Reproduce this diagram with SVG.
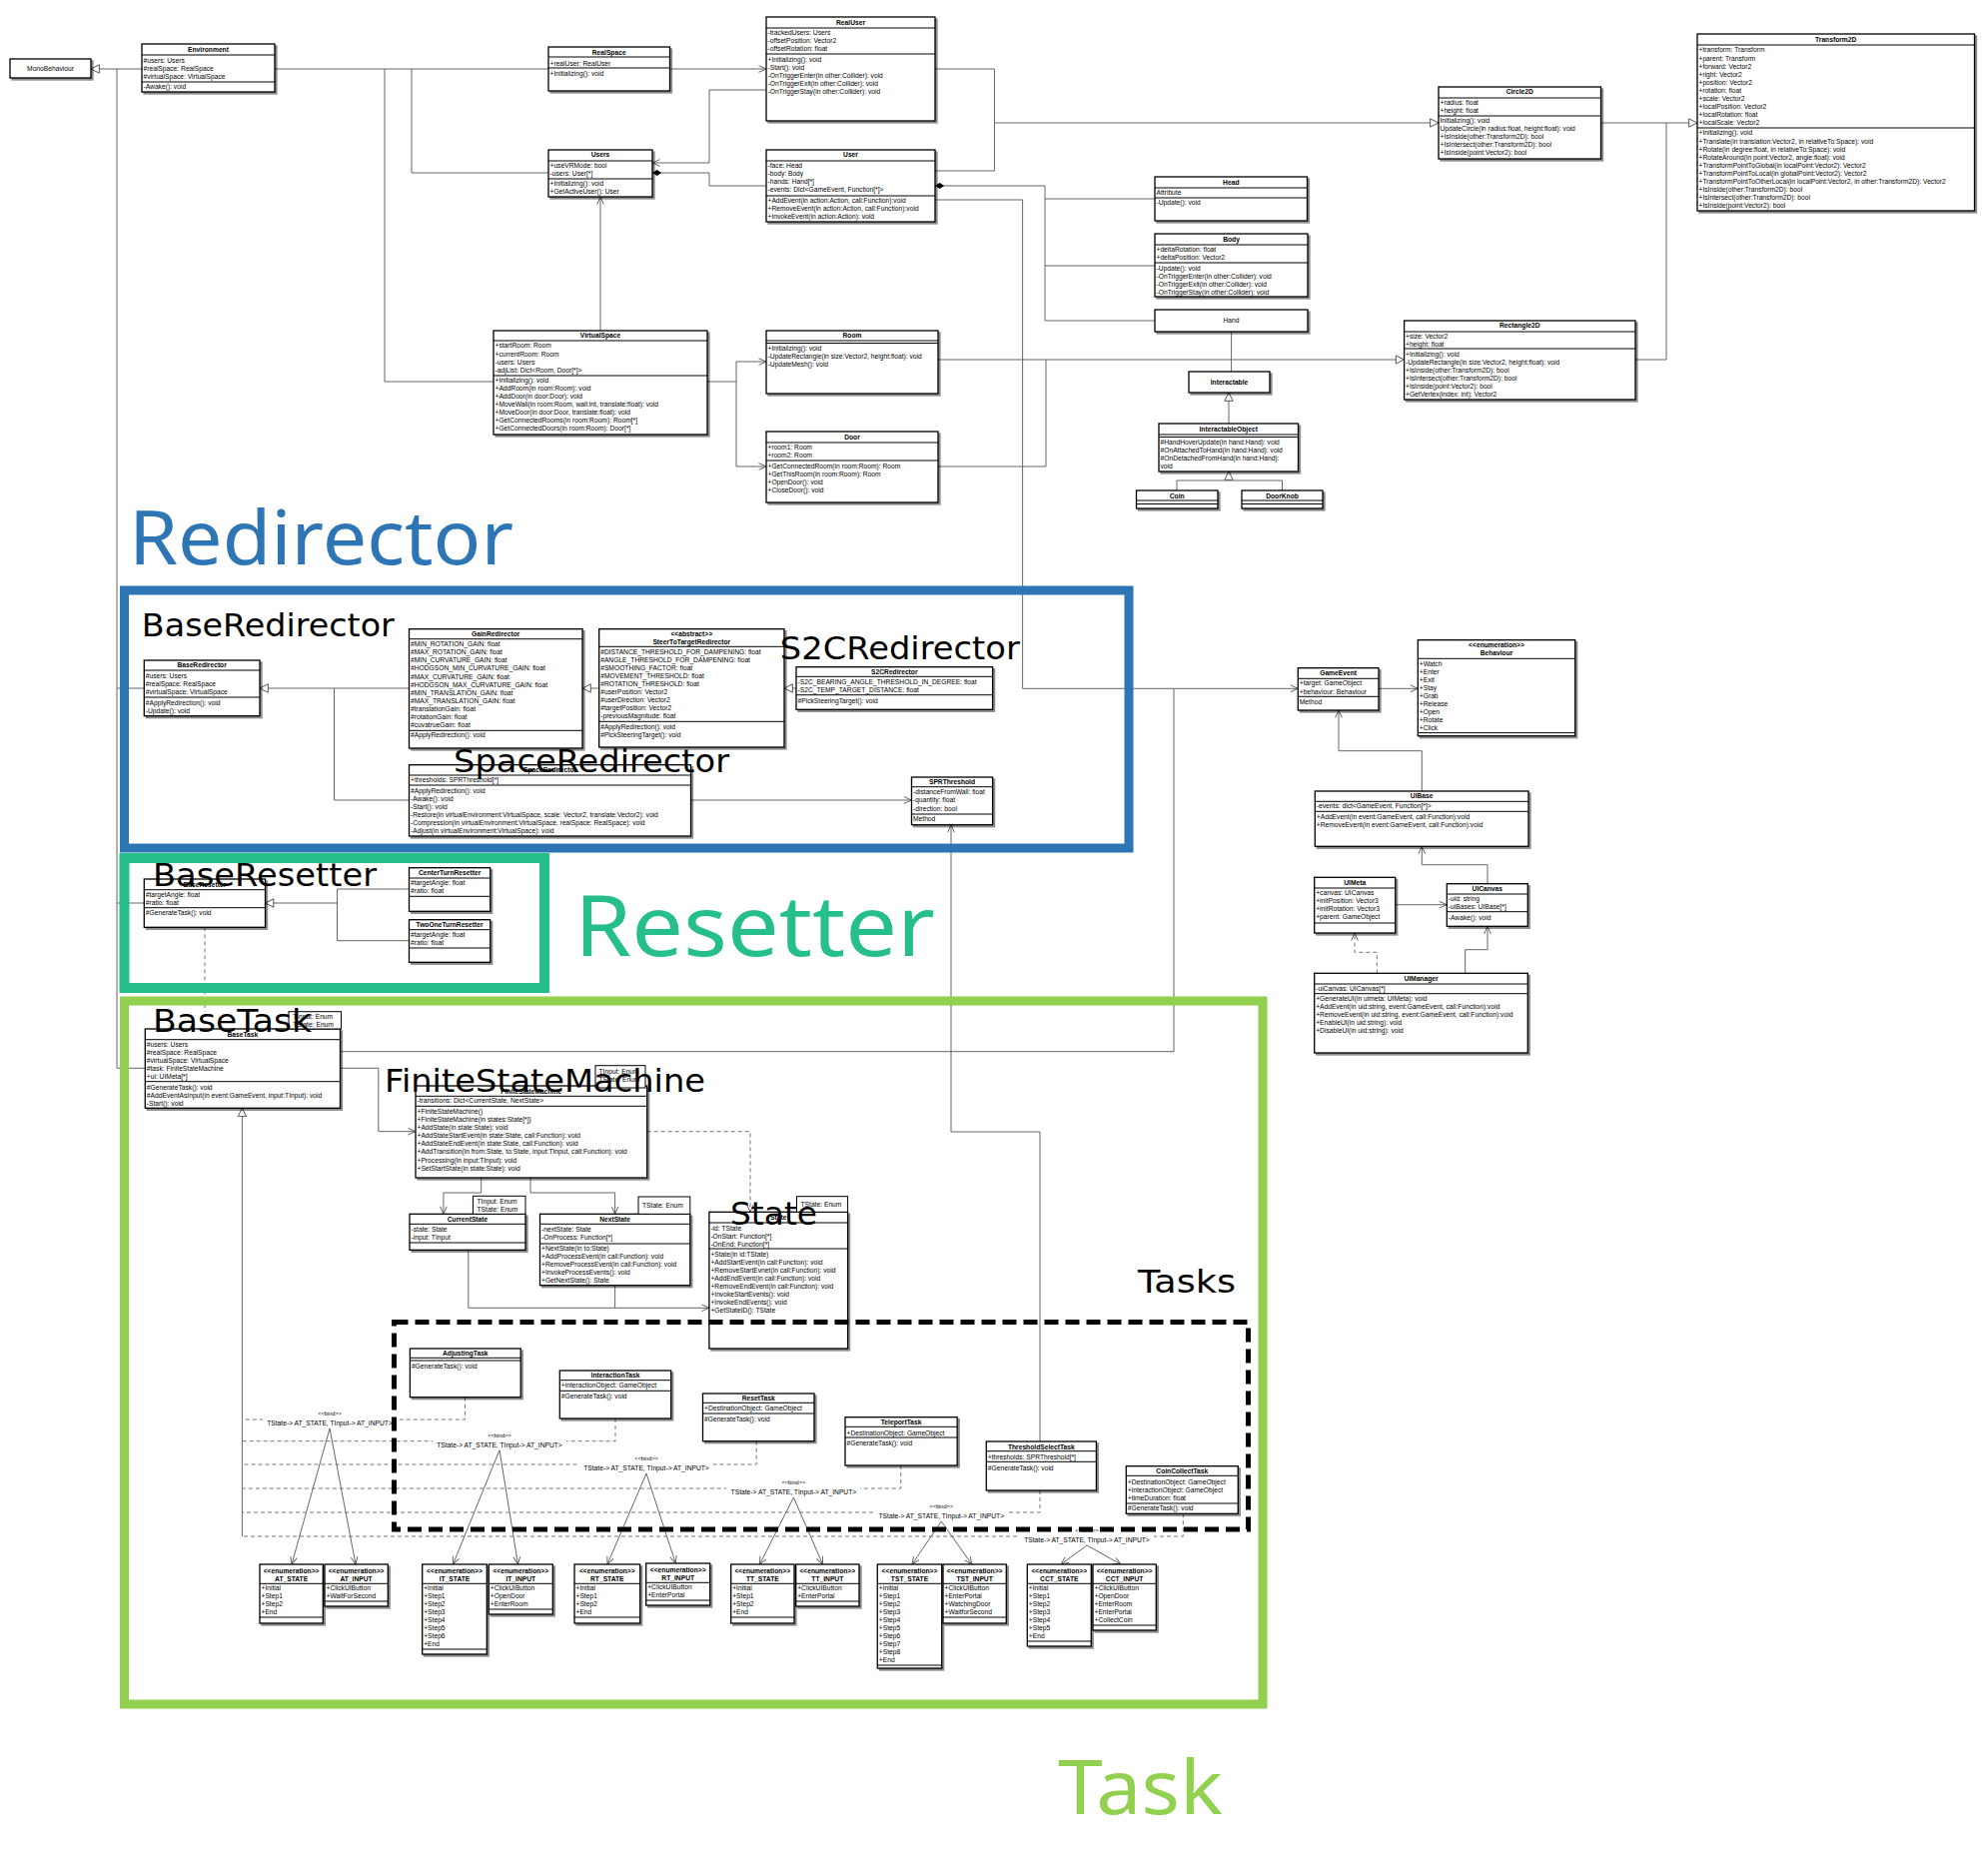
<svg xmlns="http://www.w3.org/2000/svg" width="1989" height="1878" viewBox="0 0 1989 1878">
<defs>
<filter id="ds" x="-5%" y="-5%" width="115%" height="120%"><feDropShadow dx="2" dy="2" stdDeviation="0.7" flood-color="#000" flood-opacity="0.45"/></filter>
<marker id="tri" viewBox="0 0 12 12" refX="11" refY="6" markerWidth="10" markerHeight="10" markerUnits="userSpaceOnUse" orient="auto"><path d="M1,1 L11,6 L1,11 Z" fill="#fff" stroke="#555" stroke-width="1.2"/></marker>
<marker id="opn" viewBox="0 0 12 12" refX="11" refY="6" markerWidth="9" markerHeight="8" markerUnits="userSpaceOnUse" orient="auto" preserveAspectRatio="none"><path d="M1,1 L11,6 L1,11" fill="none" stroke="#555" stroke-width="1.3"/></marker>
<marker id="dia" viewBox="0 0 12 8" refX="11.5" refY="4" markerWidth="10" markerHeight="7" markerUnits="userSpaceOnUse" orient="auto" preserveAspectRatio="none"><path d="M0.5,4 L6,0.5 L11.5,4 L6,7.5 Z" fill="#000"/></marker>
</defs>
<style>
.bx{fill:#fff;stroke:#000;stroke-width:1.3;filter:url(#ds)}
.pb{fill:#fff;stroke:#000;stroke-width:1}
.s{stroke:#000;stroke-width:1;fill:none}
.t{font-family:"Liberation Sans",Arial,sans-serif;font-size:6.7px;fill:#000}
.h{font-family:"Liberation Sans",Arial,sans-serif;font-size:6.7px;font-weight:bold;text-anchor:middle;fill:#000}
.bt{font-family:"Liberation Sans",Arial,sans-serif;font-size:6.7px;text-anchor:middle;fill:#000}
.bn{font-family:"Liberation Sans",Arial,sans-serif;font-size:5.6px;text-anchor:middle;fill:#000}
.c{fill:none;stroke:#666;stroke-width:1}
.d{fill:none;stroke:#777;stroke-width:1;stroke-dasharray:4 3}
.o{marker-end:url(#opn)}
.g{marker-end:url(#tri)}
.m{marker-end:url(#dia)}
.big{font-family:"DejaVu Sans",sans-serif;font-size:32px;fill:#000}
.sec{font-family:"Noto Sans","Open Sans",sans-serif;font-weight:normal}
.fr{fill:none}
</style>
<rect width="1989" height="1878" fill="#fff"/>

<g id="connectors">
<path class="c g" d="M142,69H91"/>
<path class="c" d="M117,69V1069.3H145.3M117,689H144.3M117,904H144.3"/>
<path class="c" d="M275,69H549M385,69V382H494M412,69V173H549"/>
<path class="c o" d="M670.5,69H767"/>
<path class="c o" d="M767,90H710V163H653"/>
<path class="c m" d="M767,186H710V173H653"/>
<path class="c o" d="M601,331V197"/>
<path class="c o" d="M708,382H737V362H767"/>
<path class="c o" d="M737,382V467H767"/>
<path class="c" d="M936,69H995.5V171H936"/>
<path class="c g" d="M995.5,123H1440"/>
<path class="c m" d="M1156,321H1046V186H936"/>
<path class="c" d="M1046,199H1156M1046,266H1156M1232.6,332V372"/>
<path class="c g" d="M1230,424V393"/>
<path class="c" d="M1178,491V481H1283.5V491"/>
<path class="c g" d="M1230,481V472"/>
<path class="c g" d="M939,360H1405.6"/>
<path class="c" d="M939,467H1047V360"/>
<path class="c g" d="M1602.5,123H1699"/>
<path class="c" d="M1637,360H1668V123"/>
<path class="c o" d="M936,200H1023.6V689.3H1299.3"/>
<path class="c" d="M340.5,1052.7H1175V689.3"/>
<path class="c o" d="M1380,689.3H1419.3"/>
<path class="c o" d="M1423.3,792V751.7H1340V711"/>
<path class="c o" d="M1396.7,905.7H1448.3"/>
<path class="c o" d="M1489,884.7V865.7H1423.3V847.3"/>
<path class="d o" d="M1378.3,974.3V953.3H1356V934"/>
<path class="c o" d="M1466.7,974.3V950.7H1489V927.3"/>
<path class="c g" d="M409.5,689H260"/>
<path class="c" d="M334.5,689V801H409.5"/>
<path class="c g" d="M599.7,689H583"/>
<path class="c g" d="M797,689H785"/>
<path class="c o" d="M691.5,801H912.5"/>
<path class="c o" d="M1041,1443V1133H952V825.7"/>
<path class="c" d="M409.5,890H337.5V941.7H409.5"/>
<path class="c g" d="M337.5,904H265.5"/>
<path class="d" d="M205,928.3V1012.7"/>
<path class="c o" d="M340.5,1069.3H378.8V1132.7H416"/>
<path class="c o" d="M481.7,1179V1194H443.9V1215.3"/>
<path class="c o" d="M531,1179V1194H615.6V1215.3"/>
<path class="d o" d="M647.7,1132.7H751V1213.3"/>
<path class="c o" d="M468.8,1251.3V1309.3H709.9"/>
<path class="c" d="M615.6,1286.7V1309.3"/>
<path class="c g" d="M242.4,1538V1109.3"/>
<path class="d" d="M465.5,1398.7V1421H242.4"/>
<path class="d" d="M616,1420V1442.7H242.4"/>
<path class="d" d="M757.2,1442.7V1466H242.4"/>
<path class="d" d="M901.8,1467V1490H242.4"/>
<path class="d" d="M1041,1492V1514H242.4"/>
<path class="d" d="M1184.3,1515.3V1538H242.4"/>
<path class="c o" d="M330,1430L292,1566"/><path class="c o" d="M330,1430L356,1566"/>
<path class="c o" d="M500,1451.7L453.5,1566"/><path class="c o" d="M500,1451.7L518.5,1566"/>
<path class="c o" d="M647,1475L608,1566"/><path class="c o" d="M647,1475L676.3,1565"/>
<path class="c o" d="M794.4,1499L760.5,1566"/><path class="c o" d="M794.4,1499L823.5,1566"/>
<path class="c o" d="M942.3,1523L913,1566"/><path class="c o" d="M942.3,1523L972.8,1566"/>
<path class="c o" d="M1088,1547L1062,1566"/><path class="c o" d="M1088,1547L1122,1566"/>
<g fill="#fff">
<rect x="263" y="1410" width="134" height="19"/>
<rect x="433" y="1432" width="134" height="19"/>
<rect x="580" y="1455" width="134" height="19"/>
<rect x="727" y="1479" width="134" height="19"/>
<rect x="875" y="1503" width="134" height="19"/>
<rect x="1021" y="1527" width="134" height="19"/>
</g>
<text class="bn" x="330" y="1417">&lt;&lt;bind&gt;&gt;</text><text class="bt" x="330" y="1426.5">TState-&gt; AT_STATE, TInput-&gt; AT_INPUT&gt;</text>
<text class="bn" x="500" y="1439">&lt;&lt;bind&gt;&gt;</text><text class="bt" x="500" y="1448.5">TState-&gt; AT_STATE, TInput-&gt; AT_INPUT&gt;</text>
<text class="bn" x="647" y="1462">&lt;&lt;bind&gt;&gt;</text><text class="bt" x="647" y="1471.5">TState-&gt; AT_STATE, TInput-&gt; AT_INPUT&gt;</text>
<text class="bn" x="794.4" y="1486">&lt;&lt;bind&gt;&gt;</text><text class="bt" x="794.4" y="1495.5">TState-&gt; AT_STATE, TInput-&gt; AT_INPUT&gt;</text>
<text class="bn" x="942.3" y="1510">&lt;&lt;bind&gt;&gt;</text><text class="bt" x="942.3" y="1519.5">TState-&gt; AT_STATE, TInput-&gt; AT_INPUT&gt;</text>
<text class="bn" x="1088" y="1534">&lt;&lt;bind&gt;&gt;</text><text class="bt" x="1088" y="1543.5">TState-&gt; AT_STATE, TInput-&gt; AT_INPUT&gt;</text>
</g>

<g id="MonoBehaviour"><rect class="bx" x="10" y="59" width="81" height="19"/><text class="bt" x="50.5" y="71">MonoBehaviour</text></g>

<g id="Environment"><rect class="bx" x="142" y="44" width="133" height="48"/><path class="s" d="M142,55H275M142,82H275"/>
<text class="h" x="208.5" y="52.4">Environment</text>
<text class="t" x="143.5" y="62.7">#users: Users</text><text class="t" x="143.5" y="70.7">#realSpace: RealSpace</text><text class="t" x="143.5" y="79.1">#virtualSpace: VirtualSpace</text>
<text class="t" x="143.5" y="89.4">-Awake(): void</text></g>

<g id="RealSpace"><rect class="bx" x="549" y="47" width="121.5" height="44"/><path class="s" d="M549,57H670.5M549,68H670.5"/>
<text class="h" x="609.7" y="55">RealSpace</text><text class="t" x="550.5" y="65.7">+realUser: RealUser</text><text class="t" x="550.5" y="76.1">+Initializing(): void</text></g>

<g id="Users"><rect class="bx" x="549" y="150" width="104" height="47"/><path class="s" d="M549,161H653M549,179H653"/>
<text class="h" x="601" y="157.4">Users</text><text class="t" x="550.5" y="167.7">+useVRMode: bool</text><text class="t" x="550.5" y="176.1">-users: User[*]</text>
<text class="t" x="550.5" y="186.4">+Initializing(): void</text><text class="t" x="550.5" y="194.4">+GetActiveUser(): User</text></g>

<g id="VirtualSpace"><rect class="bx" x="494" y="331" width="214" height="104"/><path class="s" d="M494,341H708M494,376H708"/>
<text class="h" x="601" y="338.4">VirtualSpace</text>
<text class="t" x="495.5" y="348.4">+startRoom: Room</text><text class="t" x="495.5" y="356.7">+currentRoom: Room</text><text class="t" x="495.5" y="364.7">-users: Users</text><text class="t" x="495.5" y="372.7">-adjList: Dict&lt;Room, Door[*]&gt;</text>
<text class="t" x="495.5" y="383.4">+Initializing(): void</text><text class="t" x="495.5" y="391.4">+AddRoom(in room:Room): void</text><text class="t" x="495.5" y="399.4">+AddDoor(in door:Door): void</text><text class="t" x="495.5" y="407.4">+MoveWall(in room:Room, wall:int, translate:float): void</text><text class="t" x="495.5" y="415.4">+MoveDoor(in door:Door, translate:float): void</text><text class="t" x="495.5" y="423.4">+GetConnectedRooms(in room:Room): Room[*]</text><text class="t" x="495.5" y="431.4">+GetConnectedDoors(in room:Room): Door[*]</text></g>

<g id="RealUser"><rect class="bx" x="767" y="17" width="169" height="104"/><path class="s" d="M767,28H936M767,54H936"/>
<text class="h" x="851.5" y="24.7">RealUser</text>
<text class="t" x="768.5" y="35.1">-trackedUsers: Users</text><text class="t" x="768.5" y="43.4">-offsetPosition: Vector2</text><text class="t" x="768.5" y="51.4">-offsetRotation: float</text>
<text class="t" x="768.5" y="61.7">+Initializing(): void</text><text class="t" x="768.5" y="69.7">-Start(): void</text><text class="t" x="768.5" y="77.7">-OnTriggerEnter(in other:Collider): void</text><text class="t" x="768.5" y="85.7">-OnTriggerExit(in other:Collider): void</text><text class="t" x="768.5" y="93.7">-OnTriggerStay(in other:Collider): void</text></g>

<g id="User"><rect class="bx" x="767" y="150" width="169" height="72"/><path class="s" d="M767,161H936M767,196H936"/>
<text class="h" x="851.5" y="157.4">User</text>
<text class="t" x="768.5" y="167.7">-face: Head</text><text class="t" x="768.5" y="176.1">-body: Body</text><text class="t" x="768.5" y="184.1">-hands: Hand[*]</text><text class="t" x="768.5" y="192.1">-events: Dict&lt;GameEvent, Function[*]&gt;</text>
<text class="t" x="768.5" y="202.7">+AddEvent(in action:Action, call:Function):void</text><text class="t" x="768.5" y="210.7">+RemoveEvent(in action:Action, call:Function):void</text><text class="t" x="768.5" y="218.7">+InvokeEvent(in action:Action): void</text></g>

<g id="Head"><rect class="bx" x="1156" y="177" width="152.5" height="44"/><path class="s" d="M1156,188H1308.5M1156,198H1308.5"/>
<text class="h" x="1232.3" y="184.7">Head</text><text class="t" x="1157.5" y="195.1">Attribute</text><text class="t" x="1157.5" y="205.1">-Update(): void</text></g>

<g id="Body"><rect class="bx" x="1156" y="234" width="153" height="63"/><path class="s" d="M1156,245H1309M1156,263H1309"/>
<text class="h" x="1232.5" y="241.7">Body</text><text class="t" x="1157.5" y="252.1">+deltaRotation: float</text><text class="t" x="1157.5" y="260.4">+deltaPosition: Vector2</text>
<text class="t" x="1157.5" y="270.7">-Update(): void</text><text class="t" x="1157.5" y="278.7">-OnTriggerEnter(in other:Collider): void</text><text class="t" x="1157.5" y="286.7">-OnTriggerExit(in other:Collider): void</text><text class="t" x="1157.5" y="294.7">-OnTriggerStay(in other:Collider): void</text></g>

<g id="Hand"><rect class="bx" x="1156" y="310" width="153" height="22"/><text class="bt" x="1232.5" y="323.4">Hand</text></g>

<g id="Interactable"><rect class="bx" x="1190" y="372" width="81" height="21"/><text class="h" x="1230.5" y="385.4">Interactable</text></g>

<g id="InteractableObject"><rect class="bx" x="1160" y="424" width="139.5" height="48"/><path class="s" d="M1160,435H1299.5M1160,437.5H1299.5"/>
<text class="h" x="1229.7" y="432.4">InteractableObject</text>
<text class="t" x="1161.5" y="445.1">#HandHoverUpdate(in hand:Hand): void</text><text class="t" x="1161.5" y="453.1">#OnAttachedToHand(in hand:Hand): void</text><text class="t" x="1161.5" y="461.4">#OnDetachedFromHand(in hand:Hand):</text><text class="t" x="1161.5" y="469.4">void</text></g>

<g id="Coin"><rect class="bx" x="1137.5" y="491" width="81.5" height="18"/><path class="s" d="M1137.5,501H1219M1137.5,504.5H1219"/><text class="h" x="1178.2" y="498.6">Coin</text></g>
<g id="DoorKnob"><rect class="bx" x="1243" y="491" width="81" height="18"/><path class="s" d="M1243,501H1324M1243,504.5H1324"/><text class="h" x="1283.5" y="498.6">DoorKnob</text></g>

<g id="Room"><rect class="bx" x="767" y="331" width="172" height="63"/><path class="s" d="M767,341H939M767,343.5H939"/>
<text class="h" x="853" y="338.1">Room</text><text class="t" x="768.5" y="351.1">+Initializing(): void</text><text class="t" x="768.5" y="359.1">-UpdateRectangle(in size:Vector2, height:float): void</text><text class="t" x="768.5" y="367.4">-UpdateMesh(): void</text></g>

<g id="Door"><rect class="bx" x="767" y="432" width="172" height="71"/><path class="s" d="M767,443H939M767,461H939"/>
<text class="h" x="853" y="439.7">Door</text><text class="t" x="768.5" y="450.1">+room1: Room</text><text class="t" x="768.5" y="458.1">+room2: Room</text>
<text class="t" x="768.5" y="468.7">+GetConnectedRoom(in room:Room): Room</text><text class="t" x="768.5" y="476.7">+GetThisRoom(in room:Room): Room</text><text class="t" x="768.5" y="485.1">+OpenDoor(): void</text><text class="t" x="768.5" y="493.1">+CloseDoor(): void</text></g>

<g id="Circle2D"><rect class="bx" x="1440" y="87" width="162.5" height="72"/><path class="s" d="M1440,98H1602.5M1440,116H1602.5"/>
<text class="h" x="1521.2" y="94.4">Circle2D</text><text class="t" x="1441.5" y="104.7">+radius: float</text><text class="t" x="1441.5" y="113.1">+height: float</text>
<text class="t" x="1441.5" y="123.4">Initializing(): void</text><text class="t" x="1441.5" y="131.4">UpdateCircle(in radius:float, height:float): void</text><text class="t" x="1441.5" y="139.4">+IsInside(other:Transform2D): bool</text><text class="t" x="1441.5" y="147.4">+IsIntersect(other:Transform2D): bool</text><text class="t" x="1441.5" y="155.4">+IsInside(point:Vector2): bool</text></g>

<g id="Transform2D"><rect class="bx" x="1699" y="34" width="277.5" height="177"/><path class="s" d="M1699,45H1976.5M1699,128H1976.5"/>
<text class="h" x="1837.7" y="41.7">Transform2D</text>
<text class="t" x="1700.5" y="52.4">+transform: Transform</text><text class="t" x="1700.5" y="60.5">+parent: Transform</text><text class="t" x="1700.5" y="68.6">+forward: Vector2</text><text class="t" x="1700.5" y="76.6">+right: Vector2</text><text class="t" x="1700.5" y="84.7">+position: Vector2</text><text class="t" x="1700.5" y="92.8">+rotation: float</text><text class="t" x="1700.5" y="100.9">+scale: Vector2</text><text class="t" x="1700.5" y="109">+localPosition: Vector2</text><text class="t" x="1700.5" y="117">+localRotation: float</text><text class="t" x="1700.5" y="125.1">+localScale: Vector2</text>
<text class="t" x="1700.5" y="135.4">+Initializing(): void</text><text class="t" x="1700.5" y="143.5">+Translate(in translation:Vector2, in relativeTo:Space): void</text><text class="t" x="1700.5" y="151.6">+Rotate(in degree:float, in relativeTo:Space): void</text><text class="t" x="1700.5" y="159.6">+RotateAround(in point:Vector2, angle:float): void</text><text class="t" x="1700.5" y="167.7">+TransformPointToGlobal(in localPoint:Vector2): Vector2</text><text class="t" x="1700.5" y="175.8">+TransformPointToLocal(in globalPoint:Vector2): Vector2</text><text class="t" x="1700.5" y="183.9">+TransformPointToOtherLocal(in localPoint:Vector2, in other:Transform2D): Vector2</text><text class="t" x="1700.5" y="192">+IsInside(other:Transform2D): bool</text><text class="t" x="1700.5" y="200">+IsIntersect(other:Transform2D): bool</text><text class="t" x="1700.5" y="208.1">+IsInside(point:Vector2): bool</text></g>

<g id="Rectangle2D"><rect class="bx" x="1405.6" y="321" width="231.4" height="79"/><path class="s" d="M1405.6,332H1637M1405.6,349H1637"/>
<text class="h" x="1521.3" y="328.4">Rectangle2D</text><text class="t" x="1407" y="338.7">+size: Vector2</text><text class="t" x="1407" y="346.7">+height: float</text>
<text class="t" x="1407" y="357.1">+Initializing(): void</text><text class="t" x="1407" y="365.1">-UpdateRectangle(in size:Vector2, height:float): void</text><text class="t" x="1407" y="373.1">+IsInside(other:Transform2D): bool</text><text class="t" x="1407" y="381.1">+IsIntersect(other:Transform2D): bool</text><text class="t" x="1407" y="389.1">+IsInside(point:Vector2): bool</text><text class="t" x="1407" y="397.4">+GetVertex(index: int): Vector2</text></g>

<g id="BaseRedirector"><rect class="bx" x="144.3" y="661" width="115.7" height="55.7"/><path class="s" d="M144.3,671H260M144.3,698H260"/>
<text class="h" x="202.1" y="668.4">BaseRedirector</text><text class="t" x="145.8" y="679.1">#users: Users</text><text class="t" x="145.8" y="687.1">#realSpace: RealSpace</text><text class="t" x="145.8" y="695.1">#virtualSpace: VirtualSpace</text>
<text class="t" x="145.8" y="705.7">#ApplyRedirection(): void</text><text class="t" x="145.8" y="713.7">-Update(): void</text></g>

<g id="GainRedirector"><rect class="bx" x="409.5" y="629.7" width="173.5" height="119.3"/><path class="s" d="M409.5,639.7H583M409.5,731.3H583"/>
<text class="h" x="496.2" y="637.1">GainRedirector</text>
<text class="t" x="411" y="647.1">#MIN_ROTATION_GAIN: float</text><text class="t" x="411" y="655.2">#MAX_ROTATION_GAIN: float</text><text class="t" x="411" y="663.3">#MIN_CURVATURE_GAIN: float</text><text class="t" x="411" y="671.4">#HODGSON_MIN_CURVATURE_GAIN: float</text><text class="t" x="411" y="679.5">#MAX_CURVATURE_GAIN: float</text><text class="t" x="411" y="687.6">#HODGSON_MAX_CURVATURE_GAIN: float</text><text class="t" x="411" y="695.7">#MIN_TRANSLATION_GAIN: float</text><text class="t" x="411" y="703.8">#MAX_TRANSLATION_GAIN: float</text><text class="t" x="411" y="711.9">#translationGain: float</text><text class="t" x="411" y="720">#rotationGain: float</text><text class="t" x="411" y="728.1">#cuvatrueGain: float</text>
<text class="t" x="411" y="738.4">#ApplyRedirection(): void</text></g>

<g id="SteerToTargetRedirector"><rect class="bx" x="599.7" y="629.7" width="185.3" height="118.3"/><path class="s" d="M599.7,647.3H785M599.7,722.3H785"/>
<text class="h" x="692.3" y="637.1">&lt;&lt;abstract&gt;&gt;</text><text class="h" x="692.3" y="645.1">SteerToTargetRedirector</text>
<text class="t" x="601.2" y="655.1">#DISTANCE_THRESHOLD_FOR_DAMPENING: float</text><text class="t" x="601.2" y="663.1">#ANGLE_THRESHOLD_FOR_DAMPENING: float</text><text class="t" x="601.2" y="671.1">#SMOOTHING_FACTOR: float</text><text class="t" x="601.2" y="679.1">#MOVEMENT_THRESHOLD: float</text><text class="t" x="601.2" y="687.1">#ROTATION_THRESHOLD: float</text><text class="t" x="601.2" y="695.1">#userPosition: Vector2</text><text class="t" x="601.2" y="703.1">#userDirection: Vector2</text><text class="t" x="601.2" y="711.1">#targetPosition: Vector2</text><text class="t" x="601.2" y="719.1">-previousMagnitude: float</text>
<text class="t" x="601.2" y="730.1">#ApplyRedirection(): void</text><text class="t" x="601.2" y="738.1">#PickSteeringTarget(): void</text></g>

<g id="S2CRedirector"><rect class="bx" x="797" y="667.7" width="196.6" height="42.6"/><path class="s" d="M797,677.3H993.6M797,695.7H993.6"/>
<text class="h" x="895.3" y="674.7">S2CRedirector</text><text class="t" x="798.5" y="685.1">-S2C_BEARING_ANGLE_THRESHOLD_IN_DEGREE: float</text><text class="t" x="798.5" y="693.1">-S2C_TEMP_TARGET_DISTANCE: float</text>
<text class="t" x="798.5" y="703.7">#PickSteeringTarget(): void</text></g>

<g id="SpaceRedirector"><rect class="bx" x="409.5" y="765.7" width="282" height="71.3"/><path class="s" d="M409.5,776H691.5M409.5,786H691.5"/>
<text class="h" x="550.5" y="773.1">SpaceRedirector</text><text class="t" x="411" y="783.4">+thresholds: SPRThreshold[*]</text>
<text class="t" x="411" y="793.7">#ApplyRedirection(): void</text><text class="t" x="411" y="801.7">-Awake(): void</text><text class="t" x="411" y="809.7">-Start(): void</text><text class="t" x="411" y="818.1">-Restore(in virtualEnvironment:VirtualSpace, scale: Vector2, translate:Vector2): void</text><text class="t" x="411" y="826.1">-Compression(in virtualEnvironment:VirtualSpace, realSpace: RealSpace): void</text><text class="t" x="411" y="834.1">-Adjust(in virtualEnvironment:VirtualSpace): void</text></g>

<g id="SPRThreshold"><rect class="bx" x="912.5" y="778" width="81.1" height="47.7"/><path class="s" d="M912.5,787.7H993.6M912.5,815H993.6"/>
<text class="h" x="953" y="785.1">SPRThreshold</text><text class="t" x="914" y="795.4">-distanceFromWall: float</text><text class="t" x="914" y="803.4">-quantity: float</text><text class="t" x="914" y="811.7">-direction: bool</text><text class="t" x="914" y="822.1">Method</text></g>

<g id="BaseResetter"><rect class="bx" x="144.3" y="880" width="121.2" height="48.3"/><path class="s" d="M144.3,890.7H265.5M144.3,908.7H265.5"/>
<text class="h" x="204.9" y="887.7">BaseResetter</text><text class="t" x="145.8" y="897.7">#targetAngle: float</text><text class="t" x="145.8" y="905.7">#ratio: float</text><text class="t" x="145.8" y="916.4">#GenerateTask(): void</text></g>

<g id="CenterTurnResetter"><rect class="bx" x="409.5" y="868.7" width="81.2" height="43.6"/><path class="s" d="M409.5,879H490.7M409.5,897.3H490.7"/>
<text class="h" x="450.1" y="876.1">CenterTurnResetter</text><text class="t" x="411" y="886.4">#targetAngle: float</text><text class="t" x="411" y="894.4">#ratio: float</text></g>

<g id="TwoOneTurnResetter"><rect class="bx" x="409.5" y="920.7" width="81.2" height="42.6"/><path class="s" d="M409.5,930.7H490.7M409.5,949H490.7"/>
<text class="h" x="450.1" y="927.7">TwoOneTurnResetter</text><text class="t" x="411" y="938.4">#targetAngle: float</text><text class="t" x="411" y="946.4">#ratio: float</text></g>

<g id="BaseTask"><rect class="bx" x="145.3" y="1030" width="195.2" height="79.3"/><path class="s" d="M145.3,1040.7H340.5M145.3,1082.7H340.5"/>
<text class="h" x="242.9" y="1037.7">BaseTask</text>
<text class="t" x="146.8" y="1048.1">#users: Users</text><text class="t" x="146.8" y="1056.1">#realSpace: RealSpace</text><text class="t" x="146.8" y="1064.1">#virtualSpace: VirtualSpace</text><text class="t" x="146.8" y="1072.1">#task: FiniteStateMachine</text><text class="t" x="146.8" y="1080.1">+ui: UIMeta[*]</text>
<text class="t" x="146.8" y="1091.1">#GenerateTask(): void</text><text class="t" x="146.8" y="1099.1">#AddEventAsInput(in event:GameEvent, input:TInput): void</text><text class="t" x="146.8" y="1107.1">-Start(): void</text>
<rect class="pb" x="289" y="1012.7" width="52.5" height="17.3"/><text class="t" x="293" y="1019.7">TInput: Enum</text><text class="t" x="293" y="1027.7">TState: Enum</text></g>

<g id="FiniteStateMachine"><rect class="bx" x="416" y="1087" width="231.7" height="92"/><path class="s" d="M416,1097.3H647.7M416,1107.3H647.7"/>
<text class="h" x="531.8" y="1094.7">FiniteStateMachine</text><text class="t" x="417.5" y="1104.4">-transitions: Dict&lt;CurrentState, NextState&gt;</text>
<text class="t" x="417.5" y="1115.1">+FiniteStateMachine()</text><text class="t" x="417.5" y="1123.1">+FiniteStateMachine(in states:State[*])</text><text class="t" x="417.5" y="1131.1">+AddState(in state:State): void</text><text class="t" x="417.5" y="1139.1">+AddStateStartEvent(in state:State, call:Function): void</text><text class="t" x="417.5" y="1147.4">+AddStateEndEvent(in state:State, call:Function): void</text><text class="t" x="417.5" y="1155.4">+AddTransition(in from:State, to:State, input:TInput, call:Function): void</text><text class="t" x="417.5" y="1163.7">+Processing(in input:TInput): void</text><text class="t" x="417.5" y="1171.7">+SetStartState(in state:State): void</text>
<rect class="pb" x="596" y="1066.7" width="50" height="22.3"/><text class="t" x="599.5" y="1074.5">TInput: Enum</text><text class="t" x="599.5" y="1082.5">TState: Enum</text></g>

<g id="CurrentState"><rect class="bx" x="410" y="1215.3" width="116" height="36"/><path class="s" d="M410,1225.3H526M410,1244H526"/>
<text class="h" x="468" y="1222.7">CurrentState</text><text class="t" x="411.5" y="1233.1">-state: State</text><text class="t" x="411.5" y="1241.4">-input: TInput</text>
<rect class="pb" x="473.5" y="1197.3" width="52.5" height="18"/><text class="t" x="477.5" y="1205.1">TInput: Enum</text><text class="t" x="477.5" y="1213.1">TState: Enum</text></g>

<g id="NextState"><rect class="bx" x="540.5" y="1215.3" width="150.3" height="71.4"/><path class="s" d="M540.5,1225.3H690.8M540.5,1245H690.8"/>
<text class="h" x="615.6" y="1222.7">NextState</text><text class="t" x="542" y="1233.1">-nextState: State</text><text class="t" x="542" y="1241.4">-OnProcess: Function[*]</text>
<text class="t" x="542" y="1251.7">+NextState(in to:State)</text><text class="t" x="542" y="1259.7">+AddProcessEvent(in call:Function): void</text><text class="t" x="542" y="1267.7">+RemoveProcessEvent(in call:Function): void</text><text class="t" x="542" y="1276.1">+InvokeProcessEvents(): void</text><text class="t" x="542" y="1284.1">+GetNextState(): State</text>
<rect class="pb" x="639" y="1198" width="51.8" height="17.3"/><text class="t" x="643" y="1209">TState: Enum</text></g>

<g id="State"><rect class="bx" x="709.9" y="1213.3" width="138.7" height="136.7"/><path class="s" d="M709.9,1224H848.6M709.9,1250H848.6"/>
<text class="h" x="779.2" y="1221.4">State</text><text class="t" x="711.4" y="1231.7">-id: TState</text><text class="t" x="711.4" y="1239.7">-OnStart: Function[*]</text><text class="t" x="711.4" y="1247.7">-OnEnd: Function[*]</text>
<text class="t" x="711.4" y="1258.4">+State(in id:TState)</text><text class="t" x="711.4" y="1266.4">+AddStartEvent(in call:Function): void</text><text class="t" x="711.4" y="1274.4">+RemoveStartEvnet(in call:Function): void</text><text class="t" x="711.4" y="1282.4">+AddEndEvent(in call:Function): void</text><text class="t" x="711.4" y="1290.4">+RemoveEndEvent(in call:Function): void</text><text class="t" x="711.4" y="1298.4">+InvokeStartEvents(): void</text><text class="t" x="711.4" y="1306.4">+InvokeEndEvents(): void</text><text class="t" x="711.4" y="1314.4">+GetStateID(): TState</text>
<rect class="pb" x="797.5" y="1197.7" width="51.1" height="15.6"/><text class="t" x="801.5" y="1208">TState: Enum</text></g>

<g id="AdjustingTask"><rect class="bx" x="410.4" y="1350" width="110.8" height="48.7"/><path class="s" d="M410.4,1359.3H521.2M410.4,1362H521.2"/>
<text class="h" x="465.8" y="1357">AdjustingTask</text><text class="t" x="411.9" y="1370.4">#GenerateTask(): void</text></g>

<g id="InteractionTask"><rect class="bx" x="560.3" y="1372" width="111.4" height="48"/><path class="s" d="M560.3,1381.7H671.7M560.3,1392.3H671.7"/>
<text class="h" x="616" y="1379.1">InteractionTask</text><text class="t" x="561.8" y="1389.4">+interactionObject: GameObject</text><text class="t" x="561.8" y="1399.7">#GenerateTask(): void</text></g>

<g id="ResetTask"><rect class="bx" x="703.5" y="1395" width="111.5" height="47.7"/><path class="s" d="M703.5,1404.3H815M703.5,1415H815"/>
<text class="h" x="759.2" y="1401.7">ResetTask</text><text class="t" x="705" y="1412.4">+DestinationObject: GameObject</text><text class="t" x="705" y="1422.7">#GenerateTask(): void</text></g>

<g id="TeleportTask"><rect class="bx" x="846" y="1418.7" width="112.2" height="48.3"/><path class="s" d="M846,1428.3H958.2M846,1439H958.2"/>
<text class="h" x="902.1" y="1426.4">TeleportTask</text><text class="t" x="847.5" y="1436.7">+DestinationObject: GameObject</text><text class="t" x="847.5" y="1447.1">#GenerateTask(): void</text></g>

<g id="ThresholdSelectTask"><rect class="bx" x="987.3" y="1443" width="110.1" height="49"/><path class="s" d="M987.3,1452.7H1097.4M987.3,1463.3H1097.4"/>
<text class="h" x="1042.3" y="1450.7">ThresholdSelectTask</text><text class="t" x="988.8" y="1461.1">+thresholds: SPRThreshold[*]</text><text class="t" x="988.8" y="1471.7">#GenerateTask(): void</text></g>

<g id="CoinCollectTask"><rect class="bx" x="1127.3" y="1467.7" width="112" height="47.6"/><path class="s" d="M1127.3,1477.3H1239.3M1127.3,1505H1239.3"/>
<text class="h" x="1183.3" y="1475.4">CoinCollectTask</text><text class="t" x="1128.8" y="1485.7">+DestinationObject: GameObject</text><text class="t" x="1128.8" y="1493.7">+interactionObject: GameObject</text><text class="t" x="1128.8" y="1501.7">+timeDuration: float</text><text class="t" x="1128.8" y="1512.4">#GenerateTask(): void</text></g>

<g id="AT_STATE"><rect class="bx" x="260" y="1566" width="63.3" height="59"/><path class="s" d="M260,1585.3H323.3M260,1619H323.3"/>
<text class="h" x="291.6" y="1575">&lt;&lt;enumeration&gt;&gt;</text><text class="h" x="291.6" y="1582.6">AT_STATE</text>
<text class="t" x="261.5" y="1592.4">+Initial</text><text class="t" x="261.5" y="1600.4">+Step1</text><text class="t" x="261.5" y="1608.4">+Step2</text><text class="t" x="261.5" y="1616.4">+End</text></g>
<g id="AT_INPUT"><rect class="bx" x="325" y="1566" width="63.3" height="42"/><path class="s" d="M325,1585.3H388.3M325,1603H388.3"/>
<text class="h" x="356.6" y="1575">&lt;&lt;enumeration&gt;&gt;</text><text class="h" x="356.6" y="1582.6">AT_INPUT</text>
<text class="t" x="326.5" y="1592.4">+ClickUIButton</text><text class="t" x="326.5" y="1600.4">+WaitForSecond</text></g>

<g id="IT_STATE"><rect class="bx" x="422.7" y="1566" width="64.6" height="90"/><path class="s" d="M422.7,1585.3H487.3M422.7,1651H487.3"/>
<text class="h" x="455" y="1575">&lt;&lt;enumeration&gt;&gt;</text><text class="h" x="455" y="1582.6">IT_STATE</text>
<text class="t" x="424.2" y="1592.4">+Initial</text><text class="t" x="424.2" y="1600.4">+Step1</text><text class="t" x="424.2" y="1608.4">+Step2</text><text class="t" x="424.2" y="1616.4">+Step3</text><text class="t" x="424.2" y="1624.4">+Step4</text><text class="t" x="424.2" y="1632.4">+Step5</text><text class="t" x="424.2" y="1640.4">+Step6</text><text class="t" x="424.2" y="1648.4">+End</text></g>
<g id="IT_INPUT"><rect class="bx" x="489.3" y="1566" width="64" height="50"/><path class="s" d="M489.3,1585.3H553.3M489.3,1611H553.3"/>
<text class="h" x="521.3" y="1575">&lt;&lt;enumeration&gt;&gt;</text><text class="h" x="521.3" y="1582.6">IT_INPUT</text>
<text class="t" x="490.8" y="1592.4">+ClickUIButton</text><text class="t" x="490.8" y="1600.4">+OpenDoor</text><text class="t" x="490.8" y="1608.4">+EnterRoom</text></g>

<g id="RT_STATE"><rect class="bx" x="575" y="1566" width="65.7" height="59"/><path class="s" d="M575,1585.3H640.7M575,1619H640.7"/>
<text class="h" x="607.8" y="1575">&lt;&lt;enumeration&gt;&gt;</text><text class="h" x="607.8" y="1582.6">RT_STATE</text>
<text class="t" x="576.5" y="1592.4">+Initial</text><text class="t" x="576.5" y="1600.4">+Step1</text><text class="t" x="576.5" y="1608.4">+Step2</text><text class="t" x="576.5" y="1616.4">+End</text></g>
<g id="RT_INPUT"><rect class="bx" x="646.7" y="1565" width="64" height="42"/><path class="s" d="M646.7,1584.3H710.7M646.7,1602H710.7"/>
<text class="h" x="678.7" y="1574">&lt;&lt;enumeration&gt;&gt;</text><text class="h" x="678.7" y="1581.6">RT_INPUT</text>
<text class="t" x="648.2" y="1591.4">+ClickUIButton</text><text class="t" x="648.2" y="1599.4">+EnterPortal</text></g>

<g id="TT_STATE"><rect class="bx" x="731.7" y="1566" width="63.3" height="59"/><path class="s" d="M731.7,1585.3H795M731.7,1619H795"/>
<text class="h" x="763.3" y="1575">&lt;&lt;enumeration&gt;&gt;</text><text class="h" x="763.3" y="1582.6">TT_STATE</text>
<text class="t" x="733.2" y="1592.4">+Initial</text><text class="t" x="733.2" y="1600.4">+Step1</text><text class="t" x="733.2" y="1608.4">+Step2</text><text class="t" x="733.2" y="1616.4">+End</text></g>
<g id="TT_INPUT"><rect class="bx" x="796.7" y="1566" width="63.3" height="42"/><path class="s" d="M796.7,1585.3H860M796.7,1603H860"/>
<text class="h" x="828.3" y="1575">&lt;&lt;enumeration&gt;&gt;</text><text class="h" x="828.3" y="1582.6">TT_INPUT</text>
<text class="t" x="798.2" y="1592.4">+ClickUIButton</text><text class="t" x="798.2" y="1600.4">+EnterPortal</text></g>

<g id="TST_STATE"><rect class="bx" x="878.3" y="1566" width="64.4" height="104"/><path class="s" d="M878.3,1585.3H942.7M878.3,1667H942.7"/>
<text class="h" x="910.5" y="1575">&lt;&lt;enumeration&gt;&gt;</text><text class="h" x="910.5" y="1582.6">TST_STATE</text>
<text class="t" x="879.8" y="1592.4">+Initial</text><text class="t" x="879.8" y="1600.4">+Step1</text><text class="t" x="879.8" y="1608.4">+Step2</text><text class="t" x="879.8" y="1616.4">+Step3</text><text class="t" x="879.8" y="1624.4">+Step4</text><text class="t" x="879.8" y="1632.4">+Step5</text><text class="t" x="879.8" y="1640.4">+Step6</text><text class="t" x="879.8" y="1648.4">+Step7</text><text class="t" x="879.8" y="1656.4">+Step8</text><text class="t" x="879.8" y="1664.4">+End</text></g>
<g id="TST_INPUT"><rect class="bx" x="944" y="1566" width="63.3" height="59"/><path class="s" d="M944,1585.3H1007.3M944,1619H1007.3"/>
<text class="h" x="975.6" y="1575">&lt;&lt;enumeration&gt;&gt;</text><text class="h" x="975.6" y="1582.6">TST_INPUT</text>
<text class="t" x="945.5" y="1592.4">+ClickUIButton</text><text class="t" x="945.5" y="1600.4">+EnterPortal</text><text class="t" x="945.5" y="1608.4">+WatchingDoor</text><text class="t" x="945.5" y="1616.4">+WaitforSecond</text></g>

<g id="CCT_STATE"><rect class="bx" x="1028.3" y="1566" width="64" height="82"/><path class="s" d="M1028.3,1585.3H1092.3M1028.3,1643H1092.3"/>
<text class="h" x="1060.3" y="1575">&lt;&lt;enumeration&gt;&gt;</text><text class="h" x="1060.3" y="1582.6">CCT_STATE</text>
<text class="t" x="1029.8" y="1592.4">+Initial</text><text class="t" x="1029.8" y="1600.4">+Step1</text><text class="t" x="1029.8" y="1608.4">+Step2</text><text class="t" x="1029.8" y="1616.4">+Step3</text><text class="t" x="1029.8" y="1624.4">+Step4</text><text class="t" x="1029.8" y="1632.4">+Step5</text><text class="t" x="1029.8" y="1640.4">+End</text></g>
<g id="CCT_INPUT"><rect class="bx" x="1094" y="1566" width="63.3" height="66"/><path class="s" d="M1094,1585.3H1157.3M1094,1627H1157.3"/>
<text class="h" x="1125.6" y="1575">&lt;&lt;enumeration&gt;&gt;</text><text class="h" x="1125.6" y="1582.6">CCT_INPUT</text>
<text class="t" x="1095.5" y="1592.4">+ClickUIButton</text><text class="t" x="1095.5" y="1600.4">+OpenDoor</text><text class="t" x="1095.5" y="1608.4">+EnterRoom</text><text class="t" x="1095.5" y="1616.4">+EnterPortal</text><text class="t" x="1095.5" y="1624.4">+CollectCoin</text></g>

<g id="GameEvent"><rect class="bx" x="1299.3" y="668.7" width="80.7" height="42.3"/><path class="s" d="M1299.3,679.3H1380M1299.3,697.3H1380"/>
<text class="h" x="1339.6" y="676.1">GameEvent</text><text class="t" x="1300.8" y="686.4">+target: GameObject</text><text class="t" x="1300.8" y="694.7">+behaviour: Behaviour</text><text class="t" x="1300.8" y="704.7">Method</text></g>

<g id="Behaviour"><rect class="bx" x="1419.3" y="640.7" width="157.4" height="96"/><path class="s" d="M1419.3,659.3H1576.7M1419.3,733.6H1576.7"/>
<text class="h" x="1498" y="648.1">&lt;&lt;enumeration&gt;&gt;</text><text class="h" x="1498" y="656.4">Behaviour</text>
<text class="t" x="1420.8" y="666.7">+Watch</text><text class="t" x="1420.8" y="674.8">+Enter</text><text class="t" x="1420.8" y="682.9">+Exit</text><text class="t" x="1420.8" y="690.9">+Stay</text><text class="t" x="1420.8" y="699">+Grab</text><text class="t" x="1420.8" y="707.1">+Release</text><text class="t" x="1420.8" y="715.2">+Open</text><text class="t" x="1420.8" y="723.3">+Rotate</text><text class="t" x="1420.8" y="731.4">+Click</text></g>

<g id="UIBase"><rect class="bx" x="1316.3" y="792" width="213.7" height="55.3"/><path class="s" d="M1316.3,802.3H1530M1316.3,812.3H1530"/>
<text class="h" x="1423.2" y="799.1">UIBase</text><text class="t" x="1317.8" y="809.4">-events: dict&lt;GameEvent, Function[*]&gt;</text>
<text class="t" x="1317.8" y="819.7">+AddEvent(in event:GameEvent, call:Function):void</text><text class="t" x="1317.8" y="827.7">+RemoveEvent(in event:GameEvent, call:Function):void</text></g>

<g id="UIMeta"><rect class="bx" x="1315.7" y="878.3" width="81" height="55.7"/><path class="s" d="M1315.7,889H1396.7M1315.7,924H1396.7"/>
<text class="h" x="1356.2" y="885.7">UIMeta</text><text class="t" x="1317.2" y="896.1">+canvas: UICanvas</text><text class="t" x="1317.2" y="904.1">+initPosition: Vector3</text><text class="t" x="1317.2" y="912.1">+initRotation: Vector3</text><text class="t" x="1317.2" y="920.1">+parent: GameObject</text></g>

<g id="UICanvas"><rect class="bx" x="1448.3" y="884.7" width="81" height="42.6"/><path class="s" d="M1448.3,895H1529.3M1448.3,912.7H1529.3"/>
<text class="h" x="1488.8" y="892.1">UICanvas</text><text class="t" x="1449.8" y="902.4">-uid: string</text><text class="t" x="1449.8" y="910.4">-uiBases: UIBase[*]</text><text class="t" x="1449.8" y="921.1">-Awake(): void</text></g>

<g id="UIManager"><rect class="bx" x="1315.7" y="974.3" width="213.6" height="79.7"/><path class="s" d="M1315.7,985H1529.3M1315.7,994.7H1529.3"/>
<text class="h" x="1422.5" y="981.7">UIManager</text><text class="t" x="1317.2" y="991.7">-uiCanvas: UICanvas[*]</text>
<text class="t" x="1317.2" y="1002.4">+GenerateUI(in uimeta: UIMeta): void</text><text class="t" x="1317.2" y="1010.4">+AddEvent(in uid:string, event:GameEvent, call:Function):void</text><text class="t" x="1317.2" y="1018.4">+RemoveEvent(in uid:string, event:GameEvent, call:Function):void</text><text class="t" x="1317.2" y="1026.4">+EnableUI(in uid:string): void</text><text class="t" x="1317.2" y="1034.4">+DisableUI(in uid:string): void</text></g>

<g id="frames">
<rect class="fr" x="124.5" y="591" width="1005.5" height="258" stroke="#2e75b6" stroke-width="9"/>
<rect class="fr" x="124.5" y="859" width="420.5" height="130" stroke="#26bf8c" stroke-width="10"/>
<rect class="fr" x="124.5" y="1002" width="1139.5" height="704" stroke="#92d050" stroke-width="9"/>
<rect class="fr" x="394.5" y="1323.5" width="855" height="207.5" stroke="#000" stroke-width="5" stroke-dasharray="14 7"/>
</g>

<g id="labels">
<text class="sec" x="129" y="564.5" font-size="74" textLength="385" lengthAdjust="spacingAndGlyphs" fill="#2e75b6">Redirector</text>
<text class="sec" x="575" y="957" font-size="84" textLength="361" lengthAdjust="spacingAndGlyphs" fill="#26bf8c">Resetter</text>
<text class="sec" x="1059" y="1816" font-size="74" textLength="165" lengthAdjust="spacingAndGlyphs" fill="#92d050">Task</text>
<text class="big" x="141.8" y="636.7" textLength="253" lengthAdjust="spacingAndGlyphs">BaseRedirector</text>
<text class="big" x="780.8" y="660" textLength="240" lengthAdjust="spacingAndGlyphs">S2CRedirector</text>
<text class="big" x="454" y="773.3" textLength="276" lengthAdjust="spacingAndGlyphs">SpaceRedirector</text>
<text class="big" x="153" y="887.3" textLength="224" lengthAdjust="spacingAndGlyphs">BaseResetter</text>
<text class="big" x="153" y="1033.3" textLength="159" lengthAdjust="spacingAndGlyphs">BaseTask</text>
<text class="big" x="385" y="1092.7" textLength="321" lengthAdjust="spacingAndGlyphs">FiniteStateMachine</text>
<text class="big" x="731" y="1225.7" textLength="87" lengthAdjust="spacingAndGlyphs">State</text>
<text class="big" x="1139" y="1294" textLength="98" lengthAdjust="spacingAndGlyphs">Tasks</text>
</g>
</svg>
